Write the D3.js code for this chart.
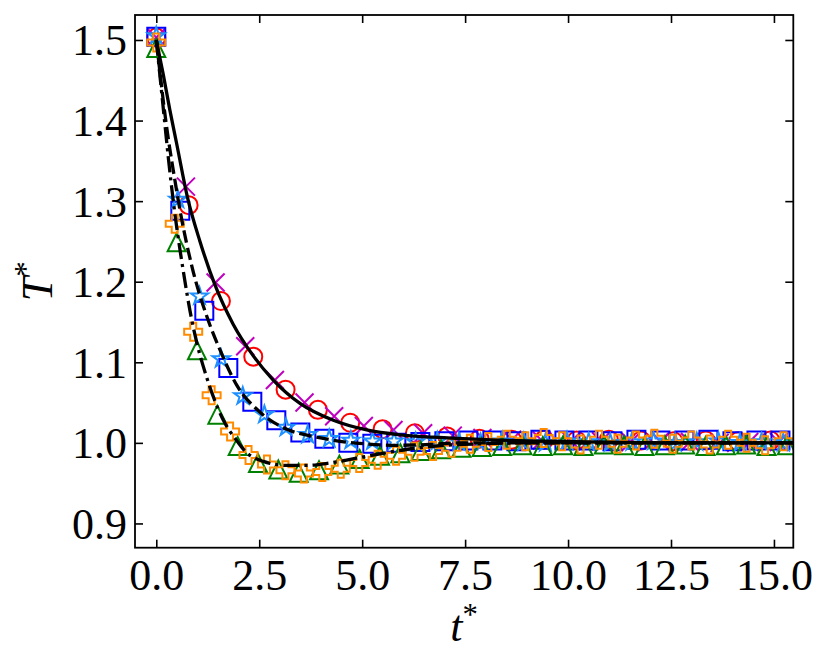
<!DOCTYPE html>
<html><head><meta charset="utf-8">
<script src="https://cdn.jsdelivr.net/npm/d3@7"></script>
<style>body{margin:0;background:#fff}</style>
</head><body>
<svg id="chart" width="831" height="669"></svg>
<script>
// ---------- tick values ----------
const xTicks = [0, 2.5, 5, 7.5, 10, 12.5, 15];
const xTickLabels = ["0.0", "2.5", "5.0", "7.5", "10.0", "12.5", "15.0"];
const yTicks = [0.9, 1.0, 1.1, 1.2, 1.3, 1.4, 1.5];
const yTickLabels = ["0.9", "1.0", "1.1", "1.2", "1.3", "1.4", "1.5"];

// ---------- marker series ----------
const circleT = [0, 0.785, 1.57, 2.355, 3.14, 3.925, 4.71, 5.495, 6.28, 7.065, 7.85, 8.635, 9.42, 10.205, 10.99, 11.775, 12.56, 13.345, 14.13, 14.915];
const circleV = [1.503, 1.295, 1.176, 1.107, 1.066, 1.041, 1.025, 1.017, 1.012, 1.008, 1.005, 1.004, 1.004, 1.003, 1.004, 1.003, 1.002, 1.003, 1.002, 1.003];

const crossT = [0, 0.72, 1.44, 2.16, 2.88, 3.6, 4.32, 5.04, 5.76, 6.48, 7.2, 7.92, 8.64, 9.36, 10.08, 10.8, 11.52, 12.24, 12.96, 13.68, 14.4, 15.12];
const crossV = [1.503, 1.318, 1.199, 1.120, 1.078, 1.050, 1.033, 1.021, 1.016, 1.012, 1.009, 1.006, 1.004, 1.003, 1.002, 1.002, 1.001, 1.002, 1.001, 1.000, 1.001, 1.001];

const squareT = [0, 0.583, 1.166, 1.749, 2.332, 2.915, 3.498, 4.081, 4.664, 5.247, 5.83, 6.413, 6.996, 7.579, 8.162, 8.745, 9.328, 9.911, 10.494, 11.077, 11.66, 12.243, 12.826, 13.409, 13.992, 14.575, 15.158];
const squareV = [1.504, 1.288, 1.164, 1.093, 1.051, 1.028, 1.013, 1.005, 1.000, 0.999, 1.000, 1.001, 1.002, 1.003, 1.003, 1.002, 1.004, 1.003, 1.003, 1.002, 1.004, 1.003, 1.003, 1.004, 1.002, 1.003, 1.003];

const starT = [0, 0.525, 1.05, 1.575, 2.1, 2.625, 3.15, 3.675, 4.2, 4.725, 5.25, 5.775, 6.3, 6.825, 7.35, 7.875, 8.4, 8.925, 9.45, 9.975, 10.5, 11.025, 11.55, 12.075, 12.6, 13.125, 13.65, 14.175, 14.7, 15.225];
const starV = [1.505, 1.302, 1.182, 1.104, 1.058, 1.035, 1.019, 1.010, 1.005, 1.003, 1.002, 1.002, 1.001, 1.002, 1.001, 1.000, 1.002, 1.001, 1.000, 1.002, 1.001, 1.000, 1.001, 1.002, 1.000, 1.001, 1.002, 1.000, 1.001, 1.000];

const triT = [0, 0.494, 0.988, 1.482, 1.976, 2.47, 2.964, 3.458, 3.952, 4.446, 4.94, 5.434, 5.928, 6.422, 6.916, 7.41, 7.904, 8.398, 8.892, 9.386, 9.88, 10.374, 10.868, 11.362, 11.856, 12.35, 12.844, 13.338, 13.832, 14.326, 14.82, 15.314];
const triV = [1.490, 1.249, 1.115, 1.035, 0.996, 0.975, 0.967, 0.963, 0.966, 0.973, 0.980, 0.984, 0.987, 0.990, 0.992, 0.994, 0.995, 0.996, 0.997, 0.996, 0.997, 0.996, 0.998, 0.997, 0.996, 0.997, 0.998, 0.996, 0.997, 0.998, 0.996, 0.997];

const plusT = [0, 0.448, 0.896, 1.344, 1.792, 2.24, 2.688, 3.136, 3.584, 4.032, 4.48, 4.928, 5.376, 5.824, 6.272, 6.72, 7.168, 7.616, 8.064, 8.512, 8.96, 9.408, 9.856, 10.304, 10.752, 11.2, 11.648, 12.096, 12.544, 12.992, 13.44, 13.888, 14.336, 14.784, 15.232];
const plusV = [1.497, 1.272, 1.138, 1.059, 1.014, 0.985, 0.973, 0.966, 0.962, 0.964, 0.968, 0.975, 0.979, 0.984, 0.989, 0.990, 0.994, 0.999, 1.001, 1.004, 1.002, 1.006, 1.002, 0.998, 1.004, 0.999, 1.003, 1.005, 0.999, 1.003, 0.998, 1.004, 1.000, 0.997, 1.002];

// ---------- reference curves ----------
const solidT = [0, 0.17, 0.33, 0.5, 0.76, 1.061, 1.425, 1.87, 2.356, 2.84, 3.49, 4.3, 5.11, 5.92, 6.73, 8, 9.5, 11, 13, 15.5];
const solidV = [1.5, 1.457, 1.413, 1.370, 1.304, 1.250, 1.196, 1.147, 1.108, 1.078, 1.049, 1.028, 1.016, 1.010, 1.007, 1.004, 1.002, 1.001, 1.000, 1.000];

const dashT = [0, 0.1, 0.19, 0.29, 0.41, 0.6, 0.86, 1.22, 1.55, 1.95, 2.52, 3.17, 3.8, 4.21, 4.6, 5.02, 5.83, 6.64, 7.36, 8.5, 10, 12, 14, 15.5];
const dashV = [1.5, 1.455, 1.416, 1.378, 1.339, 1.282, 1.220, 1.158, 1.115, 1.072, 1.038, 1.017, 1.008, 1.004, 1.001, 0.999, 0.997, 0.998, 1.000, 1.000, 1.000, 1.000, 1.000, 1.000];

const dashDotT = [0, 0.1, 0.2, 0.29, 0.45, 0.65, 0.86, 1.0, 1.22, 1.38, 1.63, 1.95, 2.15, 2.6, 3.16, 3.65, 4.21, 4.86, 5.5, 6.23, 7.04, 8.0, 9.0, 10.5, 12, 14, 15.5];
const dashDotV = [1.5, 1.45, 1.40, 1.355, 1.285, 1.215, 1.153, 1.121, 1.082, 1.058, 1.028, 1.003, 0.990, 0.977, 0.972, 0.972, 0.975, 0.981, 0.987, 0.993, 0.997, 0.999, 1.000, 1.000, 1.000, 1.000, 1.000];

// ---------- layout ----------
const L = 135, R = 793.3, T = 15, B = 547.7;
const FONT = "'Liberation Serif', 'DejaVu Serif', serif";
const FS = 44;
const MS = 18;

const svg = d3.select("#chart");
const x = d3.scaleLinear().domain([-0.517, 15.47]).range([L, R]);
const y = d3.scaleLinear().domain([0.8699, 1.531]).range([B, T]);

svg.append("defs").append("clipPath").attr("id", "clip")
  .append("rect").attr("x", L).attr("y", T).attr("width", R - L).attr("height", B - T);

const plot = svg.append("g").attr("clip-path", "url(#clip)");

// marker shapes
const h = MS / 2;
function starPath(rOut) {
  const rIn = rOut * 0.381966;
  const pts = [];
  for (let i = 0; i < 10; i++) {
    const a = -Math.PI / 2 + i * Math.PI / 5;
    const r = i % 2 === 0 ? rOut : rIn;
    pts.push([r * Math.cos(a), r * Math.sin(a)]);
  }
  return "M" + pts.map(p => p[0].toFixed(2) + "," + p[1].toFixed(2)).join("L") + "Z";
}
const plusPts = [[-1,-3],[-1,-1],[-3,-1],[-3,1],[-1,1],[-1,3],[1,3],[1,1],[3,1],[3,-1],[1,-1],[1,-3]];
const shapes = {
  circle: d3.symbol().type(d3.symbolCircle).size(Math.PI * h * h)(),
  cross: `M${-h},${-h}L${h},${h}M${-h},${h}L${h},${-h}`,
  square: `M${-h},${-h}H${h}V${h}H${-h}Z`,
  star: starPath(h),
  tri: `M0,${-h}L${-h},${h}L${h},${h}Z`,
  plus: "M" + plusPts.map(p => (p[0] * MS / 6).toFixed(2) + "," + (p[1] * MS / 6).toFixed(2)).join("L") + "Z"
};

const series = [
  {t: circleT, v: circleV, shape: "circle", color: "#ff0000"},
  {t: crossT, v: crossV, shape: "cross", color: "#bf00bf"},
  {t: squareT, v: squareV, shape: "square", color: "#0000ff"},
  {t: starT, v: starV, shape: "star", color: "#1e90ff"},
  {t: triT, v: triV, shape: "tri", color: "#008000"},
  {t: plusT, v: plusV, shape: "plus", color: "#ff8c00"}
];

series.forEach(s => {
  const data = s.t.map((t, i) => [t, s.v[i]]);
  plot.append("g").selectAll("path").data(data).join("path")
    .attr("d", shapes[s.shape])
    .attr("transform", d => `translate(${x(d[0])},${y(d[1])})`)
    .attr("fill", "none")
    .attr("stroke", s.color)
    .attr("stroke-width", 2)
    .attr("stroke-linejoin", "miter");
});

const lineGen = d3.line().x(d => x(d[0])).y(d => y(d[1])).curve(d3.curveMonotoneX);
const curves = [
  {t: solidT, v: solidV, dash: null},
  {t: dashT, v: dashV, dash: "12.5,5"},
  {t: dashDotT, v: dashDotV, dash: "16,5,3.2,5"}
];
curves.forEach(c => {
  plot.append("path")
    .datum(c.t.map((t, i) => [t, c.v[i]]))
    .attr("d", lineGen)
    .attr("fill", "none")
    .attr("stroke", "#000")
    .attr("stroke-width", 3.3)
    .attr("stroke-dasharray", c.dash);
});

// axes
const tickLen = 8;
const gx = svg.append("g").attr("transform", `translate(0,${B})`)
  .call(d3.axisBottom(x).tickValues(xTicks).tickFormat((d, i) => xTickLabels[i]).tickSizeInner(-tickLen).tickSizeOuter(0).tickPadding(11));
const gxt = svg.append("g").attr("transform", `translate(0,${T})`)
  .call(d3.axisTop(x).tickValues(xTicks).tickFormat("").tickSizeInner(-tickLen).tickSizeOuter(0));
const gy = svg.append("g").attr("transform", `translate(${L},0)`)
  .call(d3.axisLeft(y).tickValues(yTicks).tickFormat((d, i) => yTickLabels[i]).tickSizeInner(-tickLen).tickSizeOuter(0).tickPadding(8));
const gyr = svg.append("g").attr("transform", `translate(${R},0)`)
  .call(d3.axisRight(y).tickValues(yTicks).tickFormat("").tickSizeInner(-tickLen).tickSizeOuter(0));

[gx, gxt, gy, gyr].forEach(g => {
  g.select(".domain").remove();
  g.selectAll(".tick line").attr("stroke", "#000").attr("stroke-width", 1.6);
  g.selectAll("text").attr("font-family", FONT).attr("font-size", FS).attr("fill", "#000");
});
gx.selectAll("text").attr("dy", "0.71em");
gy.selectAll("text").attr("dy", "0.34em");

svg.append("rect").attr("x", L).attr("y", T).attr("width", R - L).attr("height", B - T)
  .attr("fill", "none").attr("stroke", "#000").attr("stroke-width", 1.8);

// axis labels
const xl = svg.append("text").attr("x", (L + R) / 2).attr("y", 641)
  .attr("text-anchor", "middle").attr("font-family", FONT).attr("font-size", FS);
xl.append("tspan").attr("font-style", "italic").text("t");
xl.append("tspan").attr("font-size", FS * 0.7).attr("dy", -16).text("*");

const yl = svg.append("text").attr("transform", `translate(52,${(T + B) / 2}) rotate(-90)`)
  .attr("text-anchor", "middle").attr("font-family", FONT).attr("font-size", FS);
yl.append("tspan").attr("font-style", "italic").text("T");
yl.append("tspan").attr("font-size", FS * 0.7).attr("dy", -16).text("*");
</script>
</body></html>
